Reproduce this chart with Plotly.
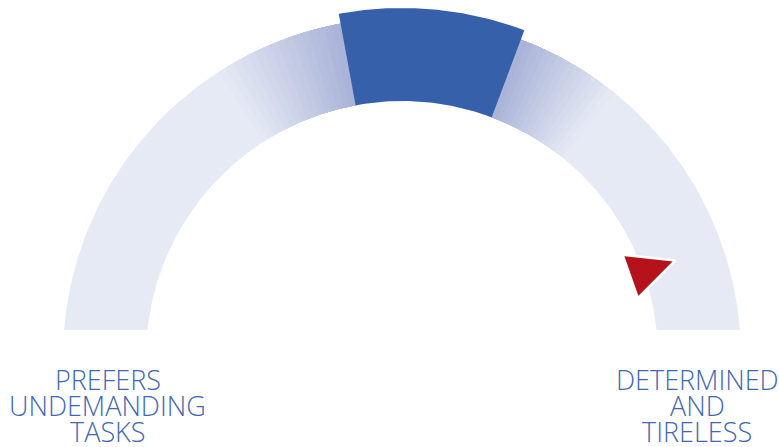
import numpy as np
import plotly.graph_objects as go

# ---------------- data ----------------
scale_min, scale_max = 0, 100
highlight_range = [44.2, 61.4]      # dark highlighted band
fade_left_end = 31.8                # where the left gradient fades out
fade_right_end = 71.5               # where the right gradient fades out
pointer_value = 89.2                # red pointer
labels_left = ["PREFERS", "UNDEMANDING", "TASKS"]
labels_right = ["DETERMINED", "AND", "TIRELESS"]

# ---------------- style ----------------
R_IN, R_OUT, R_HI = 256, 339, 349
CLIP_Y = 27
BASE = np.array([230, 234, 245])
GRAD = np.array([168, 178, 215])
DARK = "#3660AA"
RED = "#B5121B"
TXT = "#3F68B3"
N_STEPS = 16


def ang(v):
    return np.pi * (1 - (v - scale_min) / (scale_max - scale_min))


def wedge(v0, v1, r0, r1, n=60):
    a = np.linspace(ang(v0), ang(v1), n)
    xs = np.concatenate([r1 * np.cos(a), r0 * np.cos(a[::-1])])
    ys = np.concatenate([r1 * np.sin(a), r0 * np.sin(a[::-1])])
    return np.append(xs, xs[0]), np.append(ys, ys[0])


def rgb(c):
    return "rgb(%d,%d,%d)" % tuple(int(round(x)) for x in c)


fig = go.Figure()


def poly(xs, ys, color, line=None):
    fig.add_trace(go.Scatter(
        x=xs, y=ys, mode="lines", fill="toself", fillcolor=color,
        line=line or dict(width=0, color=color), hoverinfo="skip"))


# base band clipped at horizontal line
ao = np.linspace(np.pi - np.arcsin(CLIP_Y / R_OUT), np.arcsin(CLIP_Y / R_OUT), 200)
ai = np.linspace(np.arcsin(CLIP_Y / R_IN), np.pi - np.arcsin(CLIP_Y / R_IN), 200)
bx = np.concatenate([R_OUT * np.cos(ao), R_IN * np.cos(ai)])
by = np.concatenate([R_OUT * np.sin(ao), R_IN * np.sin(ai)])
poly(np.append(bx, bx[0]), np.append(by, by[0]), rgb(BASE))

# gradients
lo, hi = highlight_range
for k in range(N_STEPS):
    f = (k + 0.5) / N_STEPS
    col = rgb(BASE + (GRAD - BASE) * f)
    vl = fade_left_end + (lo - fade_left_end) * k / N_STEPS
    xs, ys = wedge(vl, lo + 0.5, R_IN, R_OUT)
    poly(xs, ys, col)
    vr = fade_right_end + (hi - fade_right_end) * k / N_STEPS
    xs, ys = wedge(hi - 0.5, vr, R_IN, R_OUT)
    poly(xs, ys, col)

# highlighted segment
xs, ys = wedge(lo, hi, R_IN, R_HI)
poly(xs, ys, DARK)

# pointer triangle
a = ang(pointer_value)
ur = np.array([np.cos(a), np.sin(a)])
ut = np.array([-np.sin(a), np.cos(a)])
tip = 290 * ur
b1 = 242 * ur + 23 * ut
b2 = 242 * ur - 23 * ut
tx = [tip[0], b1[0], b2[0], tip[0]]
ty = [tip[1], b1[1], b2[1], tip[1]]
poly(tx, ty, RED, line=dict(width=2.5, color="white"))

# labels
for i, (l, r) in enumerate(zip(labels_left, labels_right)):
    yy = -22 - 26 * i
    for txt, xx in ((l, -294.5), (r, 295)):
        fig.add_annotation(x=xx, y=yy, text=txt, showarrow=False,
                           xanchor="center", yanchor="middle",
                           font=dict(family="Open Sans", size=27, color=TXT, weight=300))

fig.update_layout(
    width=779, height=447, margin=dict(l=0, r=0, t=0, b=0),
    paper_bgcolor="white", plot_bgcolor="white", showlegend=False,
    xaxis=dict(range=[-402, 377], visible=False, fixedrange=True),
    yaxis=dict(range=[-90, 357], visible=False, fixedrange=True),
)
fig.write_html(
    "out.html",
    config={"displayModeBar": False},
    post_script="document.body.style.margin='0';document.body.style.overflow='hidden';",
)
